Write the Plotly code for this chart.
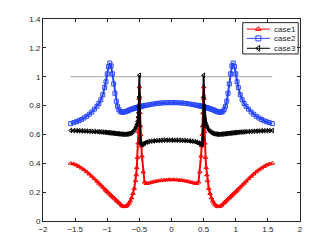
import numpy as np
import plotly.graph_objects as go

# x >= 0 half of the (symmetric) curves
x_half = [0, 0.04, 0.08, 0.12, 0.16, 0.2, 0.24, 0.28, 0.32, 0.36,
          0.39, 0.42, 0.44, 0.46, 0.47, 0.48, 0.485, 0.49, 0.495, 0.5,
          0.505, 0.51, 0.515, 0.52, 0.53, 0.54, 0.55, 0.56, 0.58, 0.6,
          0.62, 0.64, 0.66, 0.68, 0.7, 0.72, 0.74, 0.76, 0.78, 0.8,
          0.82, 0.84, 0.86, 0.88, 0.9, 0.92, 0.94, 0.96, 0.98, 1.0,
          1.02, 1.04, 1.07, 1.1, 1.13, 1.16, 1.2, 1.24, 1.28, 1.32,
          1.36, 1.4, 1.44, 1.48, 1.52, 1.57]

case1_half = [0.286, 0.286, 0.285, 0.284, 0.282, 0.279, 0.276, 0.272, 0.267, 0.262,
              0.26, 0.27, 0.34, 0.45, 0.52, 0.60, 0.66, 0.75, 0.86, 0.93,
              0.85, 0.72, 0.62, 0.54, 0.44, 0.37, 0.32, 0.28, 0.225, 0.19,
              0.16, 0.14, 0.125, 0.113, 0.105, 0.10, 0.10, 0.104, 0.11, 0.12,
              0.128, 0.136, 0.145, 0.153, 0.161, 0.17, 0.178, 0.187, 0.195, 0.204,
              0.213, 0.222, 0.235, 0.249, 0.262, 0.276, 0.293, 0.31, 0.326, 0.341,
              0.355, 0.367, 0.378, 0.388, 0.395, 0.40]

case2_half = [0.82, 0.82, 0.82, 0.819, 0.818, 0.816, 0.814, 0.811, 0.808, 0.805,
              0.802, 0.80, 0.798, 0.796, 0.795, 0.794, 0.793, 0.792, 0.792, 0.791,
              0.79, 0.79, 0.789, 0.788, 0.787, 0.786, 0.785, 0.784, 0.781, 0.778,
              0.775, 0.772, 0.768, 0.764, 0.76, 0.757, 0.755, 0.754, 0.755, 0.76,
              0.772, 0.795, 0.83, 0.885, 0.95, 1.02, 1.075, 1.095, 1.07, 1.02,
              0.965, 0.925, 0.875, 0.84, 0.815, 0.795, 0.775, 0.755, 0.74, 0.726,
              0.714, 0.704, 0.695, 0.688, 0.682, 0.675]

case3_half = [0.56, 0.56, 0.56, 0.56, 0.559, 0.558, 0.557, 0.555, 0.553, 0.55,
              0.546, 0.54, 0.535, 0.53, 0.53, 0.535, 0.545, 0.57, 0.66, 1.01,
              0.86, 0.79, 0.75, 0.72, 0.69, 0.67, 0.655, 0.645, 0.63, 0.62,
              0.613, 0.608, 0.605, 0.603, 0.602, 0.601, 0.601, 0.601, 0.602, 0.603,
              0.604, 0.605, 0.606, 0.607, 0.608, 0.609, 0.61, 0.611, 0.612, 0.613,
              0.614, 0.615, 0.616, 0.617, 0.618, 0.619, 0.62, 0.621, 0.622, 0.623,
              0.624, 0.625, 0.625, 0.626, 0.626, 0.627]

ref_x = [-1.57, 1.57]
ref_y = [1, 1]

series_names = ["case1", "case2", "case3"]
x_ticks = [-2, -1.5, -1, -0.5, 0, 0.5, 1, 1.5, 2]
y_ticks = [0, 0.2, 0.4, 0.6, 0.8, 1, 1.2, 1.4]


def full(xh, yh):
    xh = np.array(xh)
    yh = np.array(yh)
    x = np.concatenate([-xh[:0:-1], xh])
    y = np.concatenate([yh[:0:-1], yh])
    return x, y


fig = go.Figure()
fig.add_trace(go.Scatter(x=ref_x, y=ref_y, mode="lines",
                         line=dict(color="#a0a0a0", width=1), showlegend=False,
                         hoverinfo="skip"))

styles = [("red", "triangle-up-open"),
          ("rgb(40,70,250)", "square-open"),
          ("black", "triangle-left-open")]
for name, yh, (col, sym) in zip(series_names, [case1_half, case2_half, case3_half], styles):
    x, y = full(x_half, yh)
    fig.add_trace(go.Scatter(x=x, y=y, mode="lines+markers", name=name,
                             showlegend=False,
                             line=dict(color=col, width=2),
                             marker=dict(symbol=sym, size=4, color=col,
                                         line=dict(width=1, color=col))))

# compact MATLAB-style legend box (layout element, drawn in paper/overlay coords)
leg_x0, leg_x1, leg_y0, leg_y1 = 0.777, 0.993, 0.827, 0.982
leg_rows = [0.950, 0.904, 0.855]
leg_line = [0.793, 0.883]
leg_mark = 0.838
leg_text = 0.890
shapes = [dict(type="rect", xref="paper", yref="paper", x0=leg_x0, x1=leg_x1,
               y0=leg_y0, y1=leg_y1, line=dict(color="#262626", width=1),
               fillcolor="rgba(0,0,0,0)", layer="above")]
annotations = []
for name, (col, sym), ry in zip(series_names, styles, leg_rows):
    fig.add_trace(go.Scatter(x=leg_line, y=[ry, ry],
                             xaxis="x2", yaxis="y2", mode="lines",
                             line=dict(color=col, width=1), showlegend=False,
                             hoverinfo="skip"))
    fig.add_trace(go.Scatter(x=[leg_mark], y=[ry], xaxis="x2", yaxis="y2",
                             mode="markers", showlegend=False, hoverinfo="skip",
                             marker=dict(symbol=sym, size=5, color=col,
                                         line=dict(width=1, color=col))))
    annotations.append(dict(xref="paper", yref="paper", x=leg_text, y=ry,
                            xanchor="left", yanchor="middle", text=name,
                            showarrow=False, font=dict(size=8, color="#262626")))

axis_common = dict(showgrid=False, zeroline=False, showline=True, mirror="ticks",
                   linecolor="#262626", linewidth=1, ticks="inside", ticklen=3,
                   tickcolor="#262626",
                   tickfont=dict(family="Liberation Sans", size=8, color="#262626"))

fig.update_xaxes(range=[-2, 2], tickvals=x_ticks, **axis_common)
fig.update_yaxes(range=[0, 1.4], tickvals=y_ticks, **axis_common)

fig.update_layout(
    width=332, height=250,
    margin=dict(l=43, r=32, t=19, b=29),
    plot_bgcolor="white", paper_bgcolor="white",
    font=dict(family="Liberation Sans", size=8, color="#262626"),
    showlegend=False,
    shapes=shapes, annotations=annotations,
    xaxis2=dict(overlaying="x", range=[0, 1], visible=False, domain=[0, 1]),
    yaxis2=dict(overlaying="y", range=[0, 1], visible=False, domain=[0, 1]),
)

fig.write_html("out.html", config={"displayModeBar": False},
               post_script="document.body.style.margin='0px';")
